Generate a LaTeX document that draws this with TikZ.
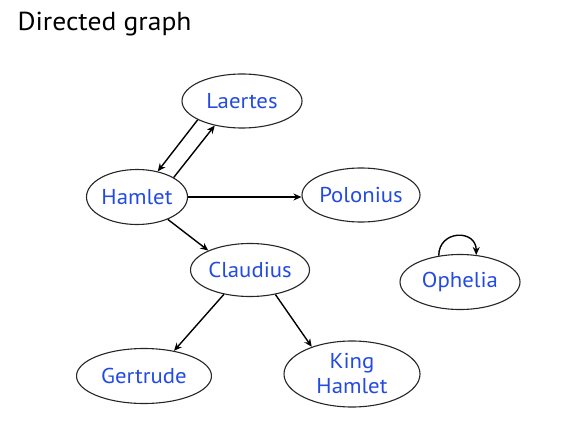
\documentclass[tikz,border=0pt]{standalone}
\usepackage{fontspec}
\setmainfont{PT Sans}
\usetikzlibrary{shapes.geometric,arrows.meta}
\definecolor{nodeblue}{RGB}{35,75,225}
\newcommand{\wide}[1]{\scalebox{1.06}[1]{#1}}
\begin{document}
\begin{tikzpicture}[x=1pt,y=-1pt,
  vtx/.style={ellipse,draw=black!85,line width=1.1pt,inner sep=0pt,text=nodeblue,
    font=\fontsize{21.5}{26}\selectfont,align=center},
  edge/.style={line width=1.4pt,-{Stealth[length=8pt,width=7pt]}}]
\useasboundingbox (0,0) rectangle (561,438);
\node[anchor=base west,font=\fontsize{26}{28}\selectfont] (title) at (14,31) {\wide{Directed graph}};
\node[vtx,minimum width=120pt,minimum height=54pt] (laertes) at (242,101) {\wide{Laertes}};
\node[vtx,minimum width=101pt,minimum height=55pt] (hamlet) at (137,197) {\wide{Hamlet}};
\node[vtx,minimum width=118pt,minimum height=54pt] (polonius) at (361,195) {\wide{Polonius}};
\node[vtx,minimum width=119pt,minimum height=53pt] (claudius) at (250,270) {\wide{Claudius}};
\node[vtx,minimum width=120pt,minimum height=55pt] (ophelia) at (460,282) {\wide{Ophelia}};
\node[vtx,minimum width=135pt,minimum height=55pt] (gertrude) at (144,376) {\wide{Gertrude}};
\node[vtx,minimum width=136pt,minimum height=66pt] (king) at (352,374) {\wide{King}\\[-1pt]\wide{Hamlet}};
\draw[edge] (laertes.203) -- (hamlet.51);
\draw[edge] (hamlet.28) -- (laertes.222);
\draw[edge] (hamlet.east) -- (hamlet.east -| polonius.west);
\draw[edge] (hamlet.-36) -- (claudius.155);
\draw[edge] (claudius.-137) -- (gertrude.40);
\draw[edge] (claudius.-44) -- (king.146);
\draw[edge] (ophelia.129) .. controls +(0,-26) and +(0,-26) .. (ophelia.59);
\end{tikzpicture}
\end{document}
